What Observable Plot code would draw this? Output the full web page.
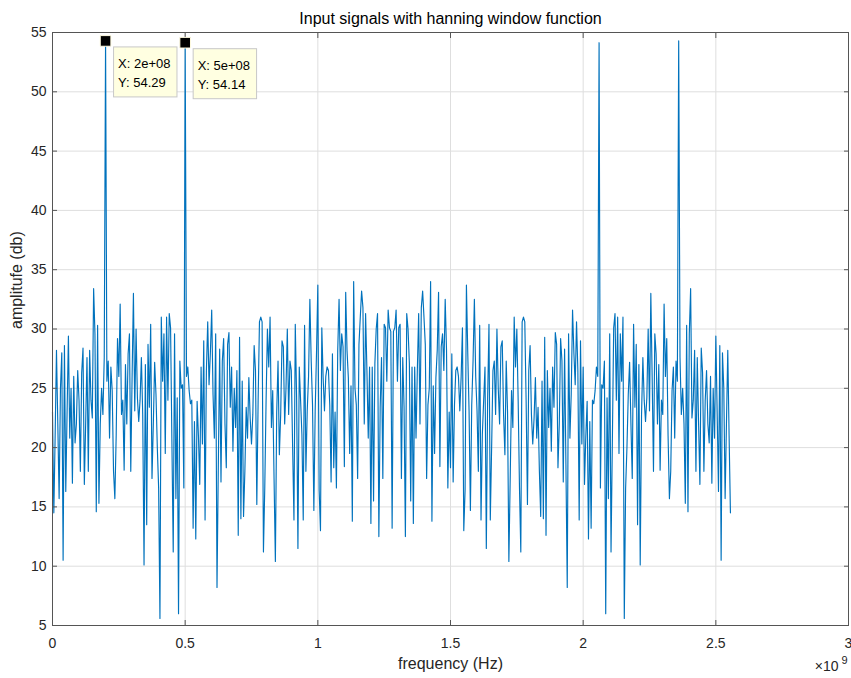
<!DOCTYPE html>
<html>
<head>
<meta charset="utf-8">
<script src="https://cdn.jsdelivr.net/npm/d3@7"></script>
<script src="https://cdn.jsdelivr.net/npm/@observablehq/plot@0.6"></script>
<style>
  html, body { margin: 0; padding: 0; background: #fff; }
  #chart svg { display: block; }
</style>
</head>
<body>
<div id="chart"></div>
<script>
// ---- data ----
const binSpacingHz = 5e6;
// magnitude (dB) of bins 0 .. N/2 (0 .. 1.28e9 Hz); the spectrum of a real signal is mirror-symmetric
const halfSpectrumDb = [
  23, 14.5, 21, 28.2, 22, 15.7, 25, 28, 10.5, 28.6,
  16.3, 23, 29.4, 20.8, 25, 17, 26, 20.4, 22, 26.5,
  24, 18, 26.3, 28.4, 16.9, 22, 27.6, 18, 28.2, 24,
  22.5, 33.4, 29.6, 14.6, 30.3, 15.3, 22, 25, 22.8, 27.6,
  54.29, 25.6, 27.3, 20.8, 26.8, 24.8, 18, 15.7, 21, 29.2,
  26, 32.1, 22.8, 24, 18.1, 27, 22, 27.9, 29.6, 18,
  26, 33, 23.1, 30, 24.2, 22.2, 24, 27.6, 22.8, 10.1,
  27, 13.5, 28.7, 23.4, 30.4, 17.4, 22, 27.2, 24.5, 20,
  16.6, 5.6, 31, 25.6, 29.6, 19.5, 31, 24, 31.3, 30.1,
  20.5, 11.2, 29.6, 15.7, 24.2, 6, 27.3, 25, 25.3, 16.6,
  54.14, 26, 26.8, 24.8, 23.7, 24, 13.2, 22.2, 12.3, 23.9,
  21, 16.9, 26.8, 20.3, 29, 13.9, 26.5, 30.6, 25.3, 28,
  31.6, 24.5, 20.8, 29.6, 8.2, 18.6, 28.3, 17.1, 27.3, 29.2,
  22, 18.3, 28.7, 29.7, 23.4, 26.8, 19.7, 25, 21.7, 26.5,
  12.6, 29.3, 14, 25.6, 14.2, 18, 23.4, 20.8, 25.9, 22.5,
  20.3, 22.8, 28.6, 26.5, 15.2, 24, 30.6, 31, 30.6, 11.2,
  16.6, 24, 30, 26.8, 31, 21.7, 24.8, 17.4, 10.4, 23,
  27.3, 19.4, 22.8, 29, 28.5, 22, 25, 30, 22.8, 27.3,
  26.5, 20, 13.9, 30.4, 24.2, 11.5, 26.8, 24, 21.1, 13.9,
  30.3, 18, 23.1, 26, 32.5, 27.3, 23.6, 14.7, 23.1, 28,
  33.7, 16.4, 13, 30.1, 25.9, 23.1, 26, 26.8, 26.5, 23.6,
  17.1, 27.9, 18.3, 23, 16.6, 28.2, 32.5, 26.5, 29.6, 28.5,
  18.4, 33.1, 28.2, 25.9, 19.5, 25.2, 13.8, 34, 25, 23.6,
  17.4, 28.7, 31, 33.2, 31.8, 22, 31.3, 26.5, 20.8, 26.8,
  13.6, 26.8, 15.5, 27.1, 30, 31.3, 12.5, 23.4, 27.6, 17.4,
  30.4, 30.1, 25.6, 31.6, 30.1, 29.8, 13.2
];
const xTicks = [0, 0.5e9, 1e9, 1.5e9, 2e9, 2.5e9, 3e9];
const xTickLabels = ["0", "0.5", "1", "1.5", "2", "2.5", "3"];
const yTicks = [5, 10, 15, 20, 25, 30, 35, 40, 45, 50, 55];
const tipFreq = [2e8, 5e8];
const tipAmp = [54.29, 54.14];
const tipXText = ["X: 2e+08", "X: 5e+08"];
const tipYText = ["Y: 54.29", "Y: 54.14"];
const titleText = "Input signals with hanning window function";
const xLabelText = "frequency (Hz)";
const yLabelText = "amplitufe (db)";
const exponentBase = "\u00d710";
const exponentPower = "9";

// ---- build table ----
const amplitudeDb = halfSpectrumDb.concat(halfSpectrumDb.slice(1, -1).reverse());
const spectrum = amplitudeDb.map((a, i) => ({f: i * binSpacingHz, a}));
const tips = tipFreq.map((f, i) => ({f, a: tipAmp[i]}));

const FONT = '"Liberation Sans", Arial, Helvetica, sans-serif';
const AXIS = "#262626";
const FRAME = "#555555";

const plot = Plot.plot({
  width: 851,
  height: 678,
  marginTop: 32,
  marginBottom: 53,
  marginLeft: 52,
  marginRight: 3,
  style: {fontFamily: FONT, fontSize: "14px", color: AXIS, background: "#fff", overflow: "visible"},
  x: {domain: [0, 3e9], label: null},
  y: {domain: [5, 55], label: null},
  marks: [
    Plot.gridX(xTicks, {stroke: "#dedede", strokeOpacity: 1}),
    Plot.gridY(yTicks, {stroke: "#dedede", strokeOpacity: 1}),
    Plot.line(spectrum, {x: "f", y: "a", stroke: "#0072BD", strokeWidth: 1.15}),
    Plot.frame({stroke: FRAME}),
    // inward ticks on all four sides
    Plot.axisX(xTicks, {anchor: "bottom", tickSize: 5, dy: -5, tickFormat: () => "", label: null, stroke: FRAME}),
    Plot.axisX(xTicks, {anchor: "top", tickSize: 5, dy: 5, tickFormat: () => "", label: null, stroke: FRAME}),
    Plot.axisY(yTicks, {anchor: "left", tickSize: 5, dx: 5, tickFormat: () => "", label: null, stroke: FRAME}),
    Plot.axisY(yTicks, {anchor: "right", tickSize: 5, dx: -5, tickFormat: () => "", label: null, stroke: FRAME}),
    // tick labels
    Plot.axisX(xTicks, {anchor: "bottom", tickSize: 0, tickPadding: 13, label: null, fontSize: 14, fill: AXIS,
      tickFormat: d => xTickLabels[xTicks.indexOf(d)]}),
    Plot.axisY(yTicks, {anchor: "left", tickSize: 0, tickPadding: 6, label: null, fontSize: 14, fill: AXIS}),
    // datatip markers
    Plot.dot(tips, {x: "f", y: "a", symbol: "square", r: 6, fill: "#000", stroke: "#fffbe0", strokeWidth: 1}),
    // title & labels
    Plot.text([titleText], {text: d => d, frameAnchor: "top", dy: -20, fontSize: 16, fill: "#000"}),
    Plot.text([xLabelText], {text: d => d, frameAnchor: "bottom", dy: 43, fontSize: 16, fill: AXIS}),
    Plot.text([yLabelText], {text: d => d, frameAnchor: "left", dx: -36, rotate: -90, fontSize: 16, fill: AXIS}),
    Plot.text([exponentBase], {text: d => d, frameAnchor: "bottom-right", textAnchor: "end", dx: -10, dy: 45, fontSize: 14, fill: AXIS}),
    Plot.text([exponentPower], {text: d => d, frameAnchor: "bottom-right", textAnchor: "end", dx: -1, dy: 38, fontSize: 11, fill: AXIS})
  ]
});

document.getElementById("chart").appendChild(plot);

// datatip boxes, positioned through the plot's own scales
const sx = plot.scale("x"), sy = plot.scale("y");
const svg = d3.select(plot);
tips.forEach((t, i) => {
  const px = sx.apply(t.f), py = sy.apply(t.a);
  const g = svg.append("g")
    .attr("transform", `translate(${px + 8},${py + 6})`)
    .attr("font-family", FONT)
    .attr("font-size", 13)
    .attr("text-anchor", "start")
    .attr("fill", "#000");
  const rect = g.append("rect").attr("fill", "#ffffe1").attr("stroke", "#c8c8c8").attr("stroke-width", 1);
  const t1 = g.append("text").attr("x", 5).attr("y", 22).attr("text-anchor", "start").text(tipXText[i]);
  const t2 = g.append("text").attr("x", 5).attr("y", 41).attr("text-anchor", "start").text(tipYText[i]);
  const w = Math.max(t1.node().getComputedTextLength(), t2.node().getComputedTextLength()) + 11;
  rect.attr("x", 0.5).attr("y", 0.5).attr("width", w).attr("height", 50);
  g.raise();
});
</script>
</body>
</html>
